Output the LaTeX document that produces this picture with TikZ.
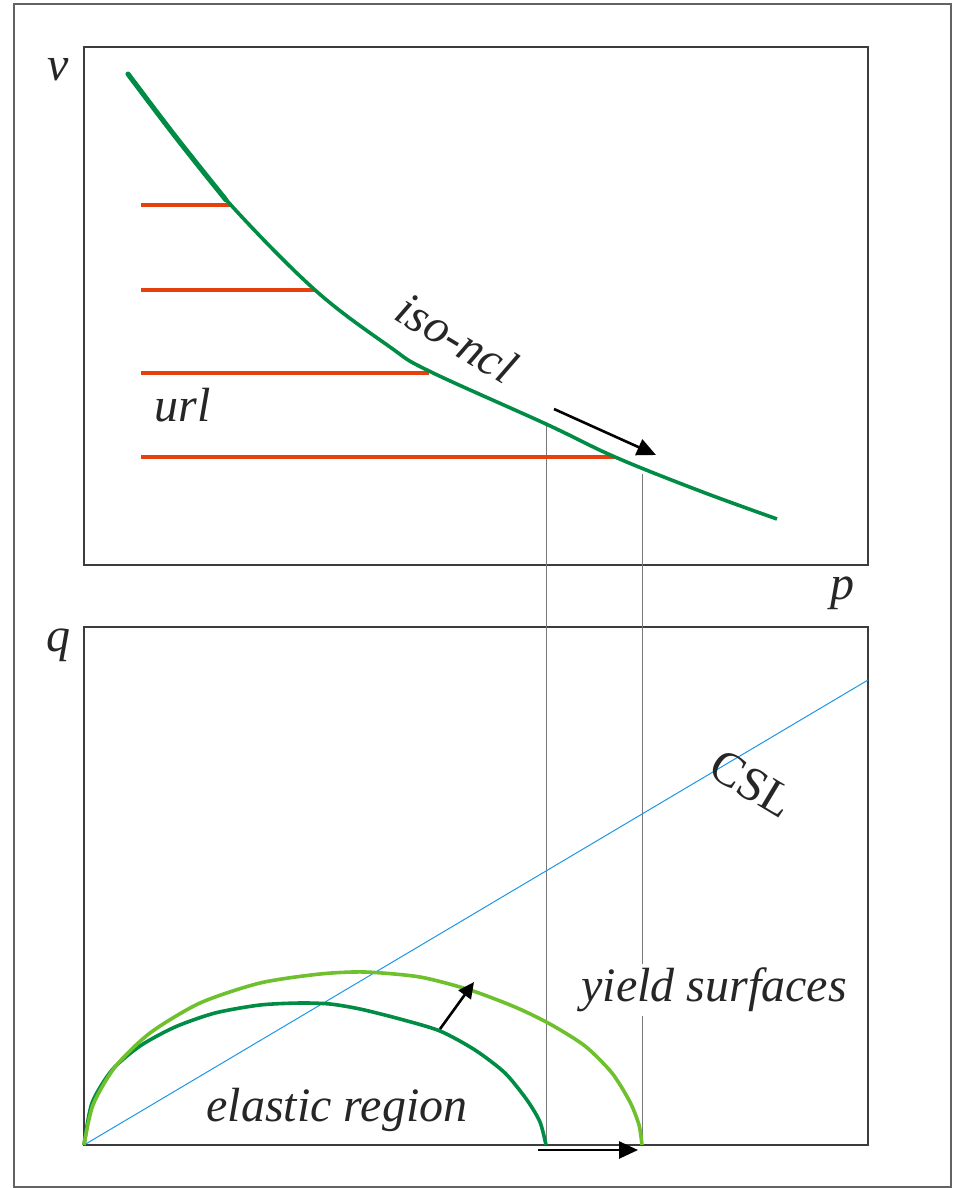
\documentclass[tikz,border=0pt]{standalone}
\usepackage{fontspec}
\setmainfont{Liberation Serif}
\newfontfamily\timesfont{Liberation Serif}
\usetikzlibrary{arrows.meta}
\definecolor{isogreen}{RGB}{0,140,69}
\definecolor{lightgreen}{RGB}{110,192,45}
\definecolor{urlred}{RGB}{232,64,12}
\definecolor{cslblue}{RGB}{30,150,230}
\definecolor{frame}{RGB}{60,60,60}
\definecolor{guide}{RGB}{120,120,120}
\tikzset{
  panel/.style={draw=frame, line width=1.3pt},
  outerframe/.style={draw=frame!80, line width=1.3pt},
  lbl/.style={font=\timesfont\fontsize{48}{52}\selectfont\itshape, text=black!85, inner sep=1pt},
  uplbl/.style={font=\timesfont\fontsize{48}{52}\selectfont\upshape, text=black!85, inner sep=1pt},
  urlline/.style={draw=urlred, line width=3.5pt},
  guideline/.style={draw=guide, line width=1pt},
  movearrow/.style={draw=black, line width=2.6pt, -{Triangle[length=19pt,width=17pt]}},
}
\begin{document}
\begin{tikzpicture}[x=1pt,y=-1pt]
\useasboundingbox (0,0) rectangle (953,1188);
% outer frame
\draw[outerframe] (14,4) rectangle (951,1187);
% panels
\draw[panel] (84,47) rectangle (868,565);
\draw[panel] (84,627) rectangle (868,1145);
% axis labels
\node[lbl] (v) at (58,70) {v};
\node[lbl] (p) at (842,593) {p};
\node[lbl] (q) at (58,645) {q};
% guide lines
\coordinate (g1top) at (546,424);
\coordinate (g1bot) at (546,1145);
\coordinate (g2top) at (642,474);
\coordinate (g2bot) at (642,1145);
\draw[guideline] (g1top) -- (g1bot);
\draw[guideline] (g2top) -- (g2bot);
% url lines
\coordinate (u1a) at (141,205); \coordinate (u1b) at (230,205);
\coordinate (u2a) at (141,290); \coordinate (u2b) at (315,290);
\coordinate (u3a) at (141,373); \coordinate (u3b) at (429,373);
\coordinate (u4a) at (141,457); \coordinate (u4b) at (615,457);
\draw[urlline] (u1a) -- (u1b);
\draw[urlline] (u2a) -- (u2b);
\draw[urlline] (u3a) -- (u3b);
\draw[urlline] (u4a) -- (u4b);
% iso-ncl curve
\draw[isogreen, line width=3.6pt] plot[smooth, tension=0.6] coordinates {
 (127,73) (175,136) (230,204) (315,290) (390,347) (429,371) (546,424) (615,457) (700,491) (777,519)};
\draw[isogreen, line width=5pt, line cap=round] plot[smooth, tension=0.6] coordinates {
 (128,74) (175,136) (226,200)};
\node[lbl, rotate=-31] (iso) at (457,338) {iso-ncl};
\node[lbl] (url) at (183,405) {url};
% arrow along ncl
\coordinate (a1s) at (554,409);
\coordinate (a1e) at (656,455);
\draw[movearrow] (a1s) -- (a1e);
% CSL
\coordinate (o) at (84,1145);
\coordinate (cslend) at (868,680);
\draw[cslblue, line width=1pt] (o) -- (cslend);
\node[uplbl, rotate=-31] (csl) at (752,784) {CSL};
% yield surfaces
\draw[isogreen, line width=3.6pt] plot[smooth, tension=0.45] coordinates {
 (84,1145) (92,1103) (112,1070) (140,1046) (175,1027) (215,1013) (260,1005) (300,1003)
 (330,1004) (360,1009) (400,1019) (440,1031) (475,1050) (505,1073) (527,1100) (540,1122) (546,1145)};
\draw[lightgreen, line width=3.6pt] plot[smooth, tension=0.45] coordinates {
 (84,1145) (93,1105) (115,1067) (150,1033) (200,1003) (260,983) (320,974) (365,972)
 (420,977) (470,990) (515,1007) (550,1024) (585,1046) (612,1073) (630,1102) (639,1125) (642,1145)};
\coordinate (a2s) at (440,1029);
\coordinate (a2e) at (474,982);
\draw[movearrow, -{Triangle[length=16pt,width=15pt]}] (a2s) -- (a2e);
\coordinate (a3s) at (538,1150);
\coordinate (a3e) at (638,1150);
\draw[movearrow] (a3s) -- (a3e);
\node[lbl, fill=white, inner sep=4pt] (ys) at (714,990) {yield surfaces};
\node[lbl] (el) at (337,1110) {elastic region};
\end{tikzpicture}
\end{document}
